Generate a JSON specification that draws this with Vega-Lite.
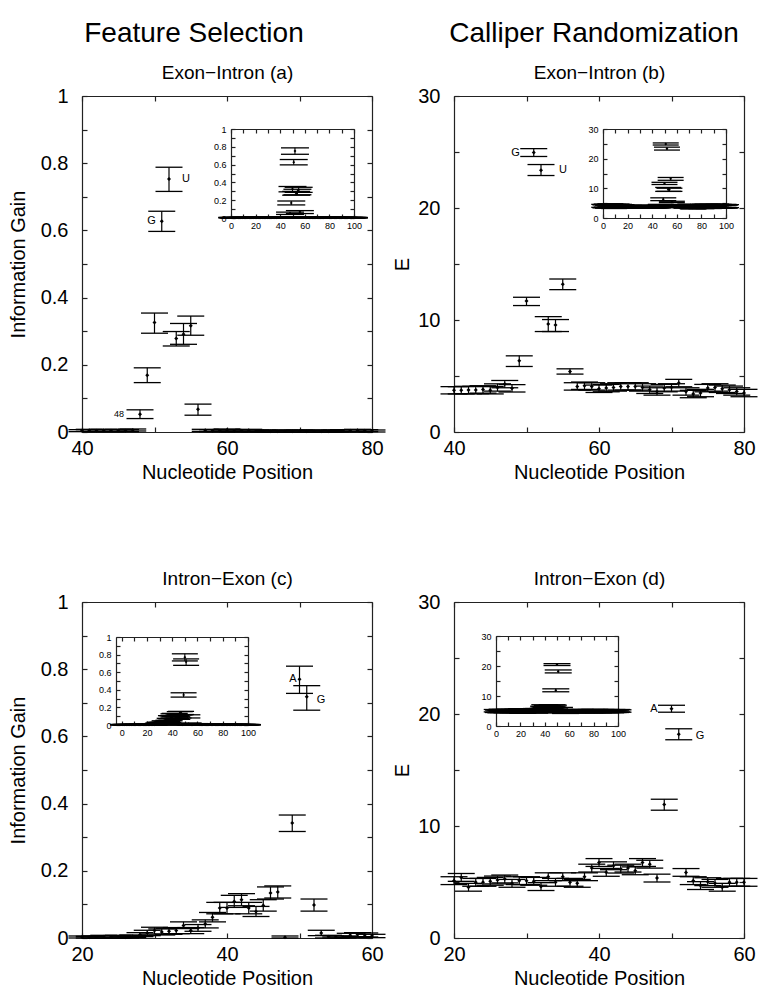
{
"$schema": "https://vega.github.io/schema/vega-lite/v6.json",
"padding": {"left": 8, "top": 20, "right": 0, "bottom": 0},
"datasets": {
"a": [
{"p":1,"v":0.004,"lo":0.001,"hi":0.007},{"p":2,"v":0.003,"lo":0,"hi":0.006},{"p":3,"v":0.002,"lo":0,"hi":0.005},{"p":4,"v":0.003,"lo":0,"hi":0.006},{"p":5,"v":0.004,"lo":0.001,"hi":0.007},
{"p":6,"v":0.002,"lo":0,"hi":0.005},{"p":7,"v":0.003,"lo":0,"hi":0.006},{"p":8,"v":0.003,"lo":0,"hi":0.006},{"p":9,"v":0.002,"lo":0,"hi":0.005},{"p":10,"v":0.004,"lo":0.001,"hi":0.007},
{"p":11,"v":0.003,"lo":0,"hi":0.006},{"p":12,"v":0.002,"lo":0,"hi":0.005},{"p":13,"v":0.003,"lo":0,"hi":0.006},{"p":14,"v":0.004,"lo":0.001,"hi":0.007},{"p":15,"v":0.003,"lo":0,"hi":0.006},
{"p":16,"v":0.002,"lo":0,"hi":0.005},{"p":17,"v":0.003,"lo":0,"hi":0.006},{"p":18,"v":0.002,"lo":0,"hi":0.005},{"p":19,"v":0.004,"lo":0.001,"hi":0.007},{"p":20,"v":0.003,"lo":0,"hi":0.006},
{"p":21,"v":0.002,"lo":0,"hi":0.005},{"p":22,"v":0.003,"lo":0,"hi":0.006},{"p":23,"v":0.003,"lo":0,"hi":0.006},{"p":24,"v":0.002,"lo":0,"hi":0.005},{"p":25,"v":0.004,"lo":0.001,"hi":0.007},
{"p":26,"v":0.003,"lo":0,"hi":0.006},{"p":27,"v":0.002,"lo":0,"hi":0.005},{"p":28,"v":0.003,"lo":0,"hi":0.006},{"p":29,"v":0.004,"lo":0.001,"hi":0.007},{"p":30,"v":0.003,"lo":0,"hi":0.006},
{"p":31,"v":0.002,"lo":0,"hi":0.005},{"p":32,"v":0.003,"lo":0,"hi":0.006},{"p":33,"v":0.003,"lo":0,"hi":0.006},{"p":34,"v":0.004,"lo":0.001,"hi":0.007},{"p":35,"v":0.003,"lo":0,"hi":0.006},
{"p":36,"v":0.004,"lo":0.001,"hi":0.007},{"p":37,"v":0.003,"lo":0,"hi":0.006},{"p":38,"v":0.005,"lo":0.002,"hi":0.008},{"p":39,"v":0.004,"lo":0.001,"hi":0.007},{"p":40,"v":0.004,"lo":0.001,"hi":0.007},
{"p":41,"v":0.005,"lo":0.002,"hi":0.008},{"p":42,"v":0.004,"lo":0.001,"hi":0.007},{"p":43,"v":0.005,"lo":0.002,"hi":0.008},{"p":44,"v":0.004,"lo":0.001,"hi":0.007},{"p":45,"v":0.005,"lo":0.002,"hi":0.008},
{"p":46,"v":0.004,"lo":0.001,"hi":0.007},{"p":47,"v":0.006,"lo":0.003,"hi":0.009},{"p":48,"v":0.053,"lo":0.040,"hi":0.066,"label":"48"},{"p":49,"v":0.169,"lo":0.147,"hi":0.191},{"p":50,"v":0.326,"lo":0.294,"hi":0.354},
{"p":51,"v":0.627,"lo":0.597,"hi":0.657,"label":"G"},{"p":52,"v":0.753,"lo":0.716,"hi":0.788,"label":"U"},{"p":53,"v":0.278,"lo":0.256,"hi":0.299},{"p":54,"v":0.291,"lo":0.261,"hi":0.323},{"p":55,"v":0.316,"lo":0.288,"hi":0.345},
{"p":56,"v":0.068,"lo":0.050,"hi":0.083},{"p":57,"v":0.005,"lo":0.002,"hi":0.008},{"p":58,"v":0.004,"lo":0.001,"hi":0.007},{"p":59,"v":0.004,"lo":0.001,"hi":0.007},{"p":60,"v":0.006,"lo":0.003,"hi":0.009},
{"p":61,"v":0.003,"lo":0,"hi":0.006},{"p":62,"v":0.004,"lo":0.001,"hi":0.007},{"p":63,"v":0.005,"lo":0.002,"hi":0.008},{"p":64,"v":0.003,"lo":0,"hi":0.006},{"p":65,"v":0.003,"lo":0,"hi":0.006},
{"p":66,"v":0.002,"lo":0,"hi":0.005},{"p":67,"v":0.002,"lo":0,"hi":0.005},{"p":68,"v":0.003,"lo":0,"hi":0.006},{"p":69,"v":0.002,"lo":0,"hi":0.005},{"p":70,"v":0.003,"lo":0,"hi":0.006},
{"p":71,"v":0.002,"lo":0,"hi":0.005},{"p":72,"v":0.003,"lo":0,"hi":0.006},{"p":73,"v":0.002,"lo":0,"hi":0.005},{"p":74,"v":0.002,"lo":0,"hi":0.005},{"p":75,"v":0.003,"lo":0,"hi":0.006},
{"p":76,"v":0.004,"lo":0.001,"hi":0.007},{"p":77,"v":0.004,"lo":0.001,"hi":0.007},{"p":78,"v":0.005,"lo":0.002,"hi":0.008},{"p":79,"v":0.004,"lo":0.001,"hi":0.007},{"p":80,"v":0.003,"lo":0,"hi":0.006},
{"p":81,"v":0.003,"lo":0,"hi":0.006},{"p":82,"v":0.002,"lo":0,"hi":0.005},{"p":83,"v":0.004,"lo":0.001,"hi":0.007},{"p":84,"v":0.003,"lo":0,"hi":0.006},{"p":85,"v":0.002,"lo":0,"hi":0.005},
{"p":86,"v":0.003,"lo":0,"hi":0.006},{"p":87,"v":0.004,"lo":0.001,"hi":0.007},{"p":88,"v":0.003,"lo":0,"hi":0.006},{"p":89,"v":0.002,"lo":0,"hi":0.005},{"p":90,"v":0.003,"lo":0,"hi":0.006},
{"p":91,"v":0.004,"lo":0.001,"hi":0.007},{"p":92,"v":0.003,"lo":0,"hi":0.006},{"p":93,"v":0.002,"lo":0,"hi":0.005},{"p":94,"v":0.003,"lo":0,"hi":0.006},{"p":95,"v":0.003,"lo":0,"hi":0.006},
{"p":96,"v":0.004,"lo":0.001,"hi":0.007},{"p":97,"v":0.002,"lo":0,"hi":0.005},{"p":98,"v":0.003,"lo":0,"hi":0.006},{"p":99,"v":0.004,"lo":0.001,"hi":0.007},{"p":100,"v":0.003,"lo":0,"hi":0.006}
],
"b": [
{"p":1,"v":4.1,"lo":3.6,"hi":4.6},{"p":2,"v":3.9,"lo":3.4,"hi":4.4},{"p":3,"v":4.2,"lo":3.7,"hi":4.7},{"p":4,"v":3.8,"lo":3.3,"hi":4.3},{"p":5,"v":4.0,"lo":3.5,"hi":4.5},
{"p":6,"v":4.3,"lo":3.8,"hi":4.8},{"p":7,"v":3.9,"lo":3.4,"hi":4.4},{"p":8,"v":4.1,"lo":3.6,"hi":4.6},{"p":9,"v":3.7,"lo":3.2,"hi":4.2},{"p":10,"v":4.0,"lo":3.5,"hi":4.5},
{"p":11,"v":4.2,"lo":3.7,"hi":4.7},{"p":12,"v":3.8,"lo":3.3,"hi":4.3},{"p":13,"v":4.1,"lo":3.6,"hi":4.6},{"p":14,"v":3.9,"lo":3.4,"hi":4.4},{"p":15,"v":4.0,"lo":3.5,"hi":4.5},
{"p":16,"v":3.8,"lo":3.45,"hi":4.15},{"p":17,"v":3.7,"lo":3.35,"hi":4.05},{"p":18,"v":3.9,"lo":3.55,"hi":4.25},{"p":19,"v":3.8,"lo":3.45,"hi":4.15},{"p":20,"v":3.7,"lo":3.35,"hi":4.05},
{"p":21,"v":3.9,"lo":3.55,"hi":4.25},{"p":22,"v":3.8,"lo":3.45,"hi":4.15},{"p":23,"v":3.7,"lo":3.35,"hi":4.05},{"p":24,"v":3.8,"lo":3.45,"hi":4.15},{"p":25,"v":3.9,"lo":3.55,"hi":4.25},
{"p":26,"v":3.7,"lo":3.35,"hi":4.05},{"p":27,"v":3.8,"lo":3.45,"hi":4.15},{"p":28,"v":3.9,"lo":3.55,"hi":4.25},{"p":29,"v":3.8,"lo":3.45,"hi":4.15},{"p":30,"v":3.7,"lo":3.35,"hi":4.05},
{"p":31,"v":3.8,"lo":3.45,"hi":4.15},{"p":32,"v":3.9,"lo":3.55,"hi":4.25},{"p":33,"v":3.7,"lo":3.35,"hi":4.05},{"p":34,"v":3.8,"lo":3.45,"hi":4.15},{"p":35,"v":3.9,"lo":3.55,"hi":4.25},
{"p":36,"v":3.8,"lo":3.45,"hi":4.15},{"p":37,"v":3.7,"lo":3.35,"hi":4.05},{"p":38,"v":3.8,"lo":3.45,"hi":4.15},{"p":39,"v":3.9,"lo":3.55,"hi":4.25},{"p":40,"v":3.72,"lo":3.40,"hi":4.05},
{"p":41,"v":3.72,"lo":3.40,"hi":4.05},{"p":42,"v":3.75,"lo":3.42,"hi":4.08},{"p":43,"v":3.75,"lo":3.42,"hi":4.08},{"p":44,"v":3.80,"lo":3.47,"hi":4.13},{"p":45,"v":3.72,"lo":3.40,"hi":4.05},
{"p":46,"v":3.98,"lo":3.65,"hi":4.30},{"p":47,"v":4.28,"lo":3.95,"hi":4.60},{"p":48,"v":3.90,"lo":3.57,"hi":4.23},{"p":49,"v":6.36,"lo":5.85,"hi":6.80},{"p":50,"v":11.70,"lo":11.29,"hi":12.03},
{"p":51,"v":24.95,"lo":24.60,"hi":25.30,"label":"G"},{"p":52,"v":23.37,"lo":22.90,"hi":23.88,"label":"U"},{"p":53,"v":9.65,"lo":8.97,"hi":10.30},{"p":54,"v":9.56,"lo":8.97,"hi":10.04},{"p":55,"v":13.19,"lo":12.71,"hi":13.66},
{"p":56,"v":5.40,"lo":5.17,"hi":5.64},{"p":57,"v":4.07,"lo":3.74,"hi":4.40},{"p":58,"v":4.13,"lo":3.80,"hi":4.46},{"p":59,"v":4.07,"lo":3.74,"hi":4.40},{"p":60,"v":3.86,"lo":3.53,"hi":4.19},
{"p":61,"v":3.92,"lo":3.59,"hi":4.25},{"p":62,"v":3.98,"lo":3.65,"hi":4.31},{"p":63,"v":4.07,"lo":3.74,"hi":4.40},{"p":64,"v":4.07,"lo":3.74,"hi":4.40},{"p":65,"v":4.07,"lo":3.74,"hi":4.40},
{"p":66,"v":3.98,"lo":3.65,"hi":4.31},{"p":67,"v":3.77,"lo":3.44,"hi":4.10},{"p":68,"v":3.62,"lo":3.29,"hi":3.95},{"p":69,"v":3.92,"lo":3.59,"hi":4.25},{"p":70,"v":3.98,"lo":3.65,"hi":4.31},
{"p":71,"v":4.37,"lo":4.04,"hi":4.70},{"p":72,"v":3.62,"lo":3.29,"hi":3.95},{"p":73,"v":3.39,"lo":3.06,"hi":3.72},{"p":74,"v":3.48,"lo":3.15,"hi":3.81},{"p":75,"v":3.92,"lo":3.59,"hi":4.25},
{"p":76,"v":3.98,"lo":3.65,"hi":4.31},{"p":77,"v":3.86,"lo":3.53,"hi":4.19},{"p":78,"v":3.77,"lo":3.44,"hi":4.10},{"p":79,"v":3.62,"lo":3.29,"hi":3.95},{"p":80,"v":3.48,"lo":3.15,"hi":3.81},
{"p":81,"v":4.0,"lo":3.5,"hi":4.5},{"p":82,"v":3.8,"lo":3.3,"hi":4.3},{"p":83,"v":4.1,"lo":3.6,"hi":4.6},{"p":84,"v":3.9,"lo":3.4,"hi":4.4},{"p":85,"v":4.2,"lo":3.7,"hi":4.7},
{"p":86,"v":3.7,"lo":3.2,"hi":4.2},{"p":87,"v":4.0,"lo":3.5,"hi":4.5},{"p":88,"v":3.9,"lo":3.4,"hi":4.4},{"p":89,"v":4.1,"lo":3.6,"hi":4.6},{"p":90,"v":3.8,"lo":3.3,"hi":4.3},
{"p":91,"v":4.0,"lo":3.5,"hi":4.5},{"p":92,"v":4.2,"lo":3.7,"hi":4.7},{"p":93,"v":3.9,"lo":3.4,"hi":4.4},{"p":94,"v":4.1,"lo":3.6,"hi":4.6},{"p":95,"v":3.8,"lo":3.3,"hi":4.3},
{"p":96,"v":4.0,"lo":3.5,"hi":4.5},{"p":97,"v":3.9,"lo":3.4,"hi":4.4},{"p":98,"v":4.1,"lo":3.6,"hi":4.6},{"p":99,"v":3.8,"lo":3.3,"hi":4.3},{"p":100,"v":4.0,"lo":3.5,"hi":4.5}
],
"c": [
{"p":1,"v":0.003,"lo":0,"hi":0.006},{"p":2,"v":0.002,"lo":0,"hi":0.005},{"p":3,"v":0.004,"lo":0.001,"hi":0.007},{"p":4,"v":0.003,"lo":0,"hi":0.006},{"p":5,"v":0.002,"lo":0,"hi":0.005},
{"p":6,"v":0.003,"lo":0,"hi":0.006},{"p":7,"v":0.004,"lo":0.001,"hi":0.007},{"p":8,"v":0.002,"lo":0,"hi":0.005},{"p":9,"v":0.003,"lo":0,"hi":0.006},{"p":10,"v":0.003,"lo":0,"hi":0.006},
{"p":11,"v":0.002,"lo":0,"hi":0.005},{"p":12,"v":0.004,"lo":0.001,"hi":0.007},{"p":13,"v":0.003,"lo":0,"hi":0.006},{"p":14,"v":0.002,"lo":0,"hi":0.005},{"p":15,"v":0.003,"lo":0,"hi":0.006},
{"p":16,"v":0.004,"lo":0.001,"hi":0.007},{"p":17,"v":0.003,"lo":0,"hi":0.006},{"p":18,"v":0.002,"lo":0,"hi":0.005},{"p":19,"v":0.003,"lo":0,"hi":0.006},{"p":20,"v":0.003,"lo":0,"hi":0.006},
{"p":21,"v":0.002,"lo":0,"hi":0.005},{"p":22,"v":0.003,"lo":0,"hi":0.006},{"p":23,"v":0.004,"lo":0,"hi":0.008},{"p":24,"v":0.003,"lo":0,"hi":0.006},{"p":25,"v":0.004,"lo":0,"hi":0.008},
{"p":26,"v":0.002,"lo":0,"hi":0.005},{"p":27,"v":0.005,"lo":0.001,"hi":0.009},{"p":28,"v":0.010,"lo":0.004,"hi":0.016},{"p":29,"v":0.015,"lo":0.007,"hi":0.023},{"p":30,"v":0.022,"lo":0.012,"hi":0.032},
{"p":31,"v":0.018,"lo":0.009,"hi":0.027},{"p":32,"v":0.020,"lo":0.011,"hi":0.029},{"p":33,"v":0.022,"lo":0.013,"hi":0.031},{"p":34,"v":0.0375,"lo":0.028,"hi":0.048},{"p":35,"v":0.022,"lo":0.013,"hi":0.031},
{"p":36,"v":0.030,"lo":0.020,"hi":0.040},{"p":37,"v":0.042,"lo":0.030,"hi":0.054},{"p":38,"v":0.062,"lo":0.048,"hi":0.076},{"p":39,"v":0.089,"lo":0.072,"hi":0.106},{"p":40,"v":0.089,"lo":0.072,"hi":0.106},
{"p":41,"v":0.109,"lo":0.091,"hi":0.127},{"p":42,"v":0.114,"lo":0.096,"hi":0.132},{"p":43,"v":0.089,"lo":0.072,"hi":0.106},{"p":44,"v":0.079,"lo":0.064,"hi":0.094},{"p":45,"v":0.097,"lo":0.080,"hi":0.114},
{"p":46,"v":0.134,"lo":0.116,"hi":0.152},{"p":47,"v":0.137,"lo":0.119,"hi":0.155},{"p":48,"v":0.002,"lo":0,"hi":0.006},{"p":49,"v":0.342,"lo":0.317,"hi":0.366},{"p":50,"v":0.770,"lo":0.728,"hi":0.809,"label":"A"},
{"p":51,"v":0.718,"lo":0.678,"hi":0.751,"label":"G"},{"p":52,"v":0.098,"lo":0.080,"hi":0.116},{"p":53,"v":0.015,"lo":0.007,"hi":0.023},{"p":54,"v":0.004,"lo":0,"hi":0.008},{"p":55,"v":0.003,"lo":0,"hi":0.006},
{"p":56,"v":0.003,"lo":0,"hi":0.006},{"p":57,"v":0.008,"lo":0.002,"hi":0.014},{"p":58,"v":0.010,"lo":0.004,"hi":0.016},{"p":59,"v":0.009,"lo":0.003,"hi":0.015},{"p":60,"v":0.006,"lo":0.001,"hi":0.011},
{"p":61,"v":0.004,"lo":0.001,"hi":0.007},{"p":62,"v":0.003,"lo":0,"hi":0.006},{"p":63,"v":0.002,"lo":0,"hi":0.005},{"p":64,"v":0.003,"lo":0,"hi":0.006},{"p":65,"v":0.004,"lo":0.001,"hi":0.007},
{"p":66,"v":0.003,"lo":0,"hi":0.006},{"p":67,"v":0.002,"lo":0,"hi":0.005},{"p":68,"v":0.003,"lo":0,"hi":0.006},{"p":69,"v":0.003,"lo":0,"hi":0.006},{"p":70,"v":0.004,"lo":0.001,"hi":0.007},
{"p":71,"v":0.002,"lo":0,"hi":0.005},{"p":72,"v":0.003,"lo":0,"hi":0.006},{"p":73,"v":0.004,"lo":0.001,"hi":0.007},{"p":74,"v":0.003,"lo":0,"hi":0.006},{"p":75,"v":0.002,"lo":0,"hi":0.005},
{"p":76,"v":0.003,"lo":0,"hi":0.006},{"p":77,"v":0.003,"lo":0,"hi":0.006},{"p":78,"v":0.004,"lo":0.001,"hi":0.007},{"p":79,"v":0.002,"lo":0,"hi":0.005},{"p":80,"v":0.003,"lo":0,"hi":0.006},
{"p":81,"v":0.003,"lo":0,"hi":0.006},{"p":82,"v":0.004,"lo":0.001,"hi":0.007},{"p":83,"v":0.002,"lo":0,"hi":0.005},{"p":84,"v":0.003,"lo":0,"hi":0.006},{"p":85,"v":0.003,"lo":0,"hi":0.006},
{"p":86,"v":0.002,"lo":0,"hi":0.005},{"p":87,"v":0.004,"lo":0.001,"hi":0.007},{"p":88,"v":0.003,"lo":0,"hi":0.006},{"p":89,"v":0.002,"lo":0,"hi":0.005},{"p":90,"v":0.003,"lo":0,"hi":0.006},
{"p":91,"v":0.004,"lo":0.001,"hi":0.007},{"p":92,"v":0.003,"lo":0,"hi":0.006},{"p":93,"v":0.002,"lo":0,"hi":0.005},{"p":94,"v":0.003,"lo":0,"hi":0.006},{"p":95,"v":0.003,"lo":0,"hi":0.006},
{"p":96,"v":0.004,"lo":0.001,"hi":0.007},{"p":97,"v":0.002,"lo":0,"hi":0.005},{"p":98,"v":0.003,"lo":0,"hi":0.006},{"p":99,"v":0.003,"lo":0,"hi":0.006},{"p":100,"v":0.002,"lo":0,"hi":0.005}
],
"d": [
{"p":1,"v":5.1,"lo":4.7,"hi":5.5},{"p":2,"v":4.9,"lo":4.5,"hi":5.3},{"p":3,"v":5.0,"lo":4.6,"hi":5.4},{"p":4,"v":4.8,"lo":4.4,"hi":5.2},{"p":5,"v":5.2,"lo":4.8,"hi":5.6},
{"p":6,"v":4.9,"lo":4.5,"hi":5.3},{"p":7,"v":5.0,"lo":4.6,"hi":5.4},{"p":8,"v":5.1,"lo":4.7,"hi":5.5},{"p":9,"v":4.8,"lo":4.4,"hi":5.2},{"p":10,"v":5.0,"lo":4.6,"hi":5.4},
{"p":11,"v":5.2,"lo":4.8,"hi":5.6},{"p":12,"v":4.9,"lo":4.5,"hi":5.3},{"p":13,"v":5.0,"lo":4.6,"hi":5.4},{"p":14,"v":4.8,"lo":4.4,"hi":5.2},{"p":15,"v":5.1,"lo":4.7,"hi":5.5},
{"p":16,"v":4.9,"lo":4.5,"hi":5.3},{"p":17,"v":5.0,"lo":4.6,"hi":5.4},{"p":18,"v":5.2,"lo":4.8,"hi":5.6},{"p":19,"v":4.9,"lo":4.5,"hi":5.3},{"p":20,"v":5.12,"lo":4.77,"hi":5.47},
{"p":21,"v":5.41,"lo":5.06,"hi":5.76},{"p":22,"v":4.53,"lo":4.18,"hi":4.88},{"p":23,"v":4.97,"lo":4.62,"hi":5.32},{"p":24,"v":4.97,"lo":4.62,"hi":5.32},{"p":25,"v":5.06,"lo":4.71,"hi":5.41},
{"p":26,"v":5.18,"lo":4.83,"hi":5.53},{"p":27,"v":5.27,"lo":4.92,"hi":5.62},{"p":28,"v":4.88,"lo":4.53,"hi":5.23},{"p":29,"v":5.12,"lo":4.77,"hi":5.47},{"p":30,"v":5.12,"lo":4.77,"hi":5.47},
{"p":31,"v":5.06,"lo":4.71,"hi":5.41},{"p":32,"v":4.59,"lo":4.24,"hi":4.94},{"p":33,"v":5.47,"lo":5.12,"hi":5.82},{"p":34,"v":4.97,"lo":4.62,"hi":5.32},{"p":35,"v":5.47,"lo":5.12,"hi":5.82},
{"p":36,"v":4.97,"lo":4.62,"hi":5.32},{"p":37,"v":4.88,"lo":4.53,"hi":5.23},{"p":38,"v":5.47,"lo":5.12,"hi":5.82},{"p":39,"v":6.24,"lo":5.89,"hi":6.59},{"p":40,"v":6.74,"lo":6.39,"hi":7.09},
{"p":41,"v":5.86,"lo":5.51,"hi":6.21},{"p":42,"v":6.45,"lo":6.10,"hi":6.80},{"p":43,"v":6.15,"lo":5.80,"hi":6.50},{"p":44,"v":6.24,"lo":5.89,"hi":6.59},{"p":45,"v":6.00,"lo":5.65,"hi":6.35},
{"p":46,"v":6.74,"lo":6.39,"hi":7.09},{"p":47,"v":6.59,"lo":6.24,"hi":6.94},{"p":48,"v":5.35,"lo":5.00,"hi":5.70},{"p":49,"v":11.92,"lo":11.41,"hi":12.39},{"p":50,"v":20.46,"lo":20.16,"hi":20.78,"label":"A"},
{"p":51,"v":18.20,"lo":17.70,"hi":18.68,"label":"G"},{"p":52,"v":5.84,"lo":5.51,"hi":6.20},{"p":53,"v":5.12,"lo":4.77,"hi":5.47},{"p":54,"v":4.68,"lo":4.33,"hi":5.03},{"p":55,"v":5.03,"lo":4.68,"hi":5.38},
{"p":56,"v":4.88,"lo":4.53,"hi":5.23},{"p":57,"v":4.53,"lo":4.18,"hi":4.88},{"p":58,"v":4.97,"lo":4.62,"hi":5.32},{"p":59,"v":4.97,"lo":4.62,"hi":5.32},{"p":60,"v":4.97,"lo":4.62,"hi":5.32},
{"p":61,"v":4.9,"lo":4.5,"hi":5.3},{"p":62,"v":5.0,"lo":4.6,"hi":5.4},{"p":63,"v":4.8,"lo":4.4,"hi":5.2},{"p":64,"v":5.1,"lo":4.7,"hi":5.5},{"p":65,"v":4.9,"lo":4.5,"hi":5.3},
{"p":66,"v":5.0,"lo":4.6,"hi":5.4},{"p":67,"v":4.8,"lo":4.4,"hi":5.2},{"p":68,"v":5.0,"lo":4.6,"hi":5.4},{"p":69,"v":5.1,"lo":4.7,"hi":5.5},{"p":70,"v":4.9,"lo":4.5,"hi":5.3},
{"p":71,"v":5.0,"lo":4.6,"hi":5.4},{"p":72,"v":4.8,"lo":4.4,"hi":5.2},{"p":73,"v":5.1,"lo":4.7,"hi":5.5},{"p":74,"v":4.9,"lo":4.5,"hi":5.3},{"p":75,"v":5.0,"lo":4.6,"hi":5.4},
{"p":76,"v":5.0,"lo":4.6,"hi":5.4},{"p":77,"v":4.8,"lo":4.4,"hi":5.2},{"p":78,"v":5.1,"lo":4.7,"hi":5.5},{"p":79,"v":4.9,"lo":4.5,"hi":5.3},{"p":80,"v":5.0,"lo":4.6,"hi":5.4},
{"p":81,"v":5.1,"lo":4.7,"hi":5.5},{"p":82,"v":4.9,"lo":4.5,"hi":5.3},{"p":83,"v":5.0,"lo":4.6,"hi":5.4},{"p":84,"v":4.8,"lo":4.4,"hi":5.2},{"p":85,"v":5.0,"lo":4.6,"hi":5.4},
{"p":86,"v":5.1,"lo":4.7,"hi":5.5},{"p":87,"v":4.9,"lo":4.5,"hi":5.3},{"p":88,"v":5.0,"lo":4.6,"hi":5.4},{"p":89,"v":4.8,"lo":4.4,"hi":5.2},{"p":90,"v":5.1,"lo":4.7,"hi":5.5},
{"p":91,"v":4.9,"lo":4.5,"hi":5.3},{"p":92,"v":5.0,"lo":4.6,"hi":5.4},{"p":93,"v":5.0,"lo":4.6,"hi":5.4},{"p":94,"v":4.8,"lo":4.4,"hi":5.2},{"p":95,"v":5.1,"lo":4.7,"hi":5.5},
{"p":96,"v":4.9,"lo":4.5,"hi":5.3},{"p":97,"v":5.0,"lo":4.6,"hi":5.4},{"p":98,"v":4.9,"lo":4.5,"hi":5.3},{"p":99,"v":5.1,"lo":4.7,"hi":5.5},{"p":100,"v":5.0,"lo":4.6,"hi":5.4}
]
},
"columns": 2,
"spacing": {"row": 170, "column": 82},
"bounds": "flush",
"concat": [
{
 "width": 290, "height": 336,
 "data": {"name": "a"},
 "title": {"text": "Feature Selection", "fontSize": 28, "anchor": "middle", "frame": "group", "dx": -33, "offset": -7, "baseline": "alphabetic"},
 "layer": [
  {"transform": [{"filter": "datum.p >= 40 && datum.p <= 80"}],
   "layer": [
    {"mark": {"type": "rule", "color": "#000", "strokeWidth": 1.2},
     "encoding": {"x": {"field": "p", "type": "quantitative", "scale": {"domain": [40, 80], "nice": false, "zero": false}, "axis": null},
                  "y": {"field": "lo", "type": "quantitative", "scale": {"domain": [0, 1], "nice": false, "zero": false}, "axis": null}, "y2": {"field": "hi"}}},
    {"mark": {"type": "tick", "orient": "horizontal", "size": 27, "thickness": 1.3, "color": "#000", "opacity": 1},
     "encoding": {"x": {"field": "p", "type": "quantitative", "axis": null}, "y": {"field": "lo", "type": "quantitative", "axis": null}}},
    {"mark": {"type": "tick", "orient": "horizontal", "size": 27, "thickness": 1.3, "color": "#000", "opacity": 1},
     "encoding": {"x": {"field": "p", "type": "quantitative", "axis": null}, "y": {"field": "hi", "type": "quantitative", "axis": null}}},
    {"mark": {"type": "point", "filled": true, "shape": "diamond", "size": 16, "color": "#000", "opacity": 1},
     "encoding": {"x": {"field": "p", "type": "quantitative", "axis": null}, "y": {"field": "v", "type": "quantitative", "axis": null}}},
    {"transform": [{"filter": "datum.label === 'U'"}],
     "mark": {"type": "text", "align": "left", "baseline": "middle", "dx": 13, "fontSize": 11, "color": "#000"},
     "encoding": {"x": {"field": "p", "type": "quantitative", "axis": null}, "y": {"field": "v", "type": "quantitative", "axis": null}, "text": {"field": "label"}}},
    {"transform": [{"filter": "datum.label === 'G'"}],
     "mark": {"type": "text", "align": "right", "baseline": "middle", "dx": -6, "fontSize": 11, "color": "#000"},
     "encoding": {"x": {"field": "p", "type": "quantitative", "axis": null}, "y": {"field": "v", "type": "quantitative", "axis": null}, "text": {"field": "label"}}},
    {"transform": [{"filter": "datum.label === '48'"}],
     "mark": {"type": "text", "align": "right", "baseline": "middle", "dx": -16, "fontSize": 9, "color": "#000"},
     "encoding": {"x": {"field": "p", "type": "quantitative", "axis": null}, "y": {"field": "v", "type": "quantitative", "axis": null}, "text": {"field": "label"}}}
   ]},
  {"transform": [{"filter": "datum.p >= 40 && datum.p <= 80"}],
   "mark": {"type": "point", "opacity": 0},
   "encoding": {
    "x": {"field": "p", "type": "quantitative", "scale": {"domain": [40, 80], "nice": false, "zero": false},
          "axis": {"orient": "bottom", "values": [40, 50, 60, 70, 80], "labelExpr": "datum.value % 20 === 0 ? datum.label : ''", "title": "Nucleotide Position", "labelPadding": 11, "titlePadding": 4}},
    "y": {"field": "v", "type": "quantitative", "scale": {"domain": [0, 1], "nice": false, "zero": false},
          "axis": {"orient": "left", "values": [0, 0.1, 0.2, 0.3, 0.4, 0.5, 0.6, 0.7, 0.8, 0.9, 1], "labelExpr": "round(datum.value * 10) % 2 === 0 ? format(datum.value, '~g') : ''", "title": "Information Gain", "labelPadding": 19, "titlePadding": 12}}}},
  {"transform": [{"filter": "datum.p >= 40 && datum.p <= 80"}],
   "mark": {"type": "point", "opacity": 0},
   "encoding": {
    "x": {"field": "p", "type": "quantitative", "scale": {"domain": [40, 80], "nice": false, "zero": false},
          "axis": {"orient": "top", "values": [40, 50, 60, 70, 80], "labels": false, "title": "Exon−Intron (a)", "titleX": 145, "titleY": -18, "titleAlign": "center", "titleBaseline": "alphabetic", "titleAngle": 0, "titleFontSize": 19}},
    "y": {"field": "v", "type": "quantitative", "scale": {"domain": [0, 1], "nice": false, "zero": false},
          "axis": {"orient": "right", "values": [0, 0.1, 0.2, 0.3, 0.4, 0.5, 0.6, 0.7, 0.8, 0.9, 1], "labels": false, "title": null}}}},
  {"layer": [
    {"mark": {"type": "rule", "color": "#000", "strokeWidth": 1.1},
     "encoding": {"x": {"field": "p", "type": "quantitative", "scale": {"domain": [0, 100], "range": [149, 272], "nice": false, "zero": false}, "axis": null},
                  "y": {"field": "lo", "type": "quantitative", "scale": {"domain": [0, 1], "range": [122, 33], "nice": false, "zero": false}, "axis": null}, "y2": {"field": "hi"}}},
    {"mark": {"type": "tick", "orient": "horizontal", "size": 28, "thickness": 1.3, "color": "#000", "opacity": 1},
     "encoding": {"x": {"field": "p", "type": "quantitative", "axis": null}, "y": {"field": "lo", "type": "quantitative", "axis": null}}},
    {"mark": {"type": "tick", "orient": "horizontal", "size": 28, "thickness": 1.3, "color": "#000", "opacity": 1},
     "encoding": {"x": {"field": "p", "type": "quantitative", "axis": null}, "y": {"field": "hi", "type": "quantitative", "axis": null}}},
    {"mark": {"type": "point", "filled": true, "shape": "diamond", "size": 8, "color": "#000", "opacity": 1},
     "encoding": {"x": {"field": "p", "type": "quantitative", "axis": null}, "y": {"field": "v", "type": "quantitative", "axis": null}}}
  ]},
  {"mark": {"type": "point", "opacity": 0},
   "encoding": {
    "x": {"field": "p", "type": "quantitative", "scale": {"domain": [0, 100], "range": [149, 272], "nice": false, "zero": false},
          "axis": {"orient": "bottom", "offset": -214, "values": [0, 10, 20, 30, 40, 50, 60, 70, 80, 90, 100], "labelExpr": "datum.value % 20 === 0 ? datum.label : ''", "title": null, "labelFontSize": 9, "tickSize": -4, "labelPadding": 7}},
    "y": {"field": "v", "type": "quantitative", "scale": {"domain": [0, 1], "range": [122, 33], "nice": false, "zero": false},
          "axis": {"orient": "left", "offset": -149, "values": [0, 0.1, 0.2, 0.3, 0.4, 0.5, 0.6, 0.7, 0.8, 0.9, 1], "labelExpr": "round(datum.value * 10) % 2 === 0 ? format(datum.value, '~g') : ''", "title": null, "labelFontSize": 9, "tickSize": -4, "labelPadding": 9}}}},
  {"mark": {"type": "point", "opacity": 0},
   "encoding": {
    "x": {"field": "p", "type": "quantitative", "scale": {"domain": [0, 100], "range": [149, 272], "nice": false, "zero": false},
          "axis": {"orient": "top", "offset": -33, "values": [0, 10, 20, 30, 40, 50, 60, 70, 80, 90, 100], "labels": false, "title": null, "tickSize": -4}},
    "y": {"field": "v", "type": "quantitative", "scale": {"domain": [0, 1], "range": [122, 33], "nice": false, "zero": false},
          "axis": {"orient": "right", "offset": -18, "values": [0, 0.1, 0.2, 0.3, 0.4, 0.5, 0.6, 0.7, 0.8, 0.9, 1], "labels": false, "title": null, "tickSize": -4}}}}
 ],
 "resolve": {"scale": {"x": "independent", "y": "independent"}}
},
{
 "width": 290, "height": 336,
 "data": {"name": "b"},
 "title": {"text": "Calliper Randomization", "fontSize": 28, "anchor": "middle", "frame": "group", "dx": -5, "offset": -7, "baseline": "alphabetic"},
 "layer": [
  {"transform": [{"filter": "datum.p >= 40 && datum.p <= 80"}],
   "layer": [
    {"mark": {"type": "rule", "color": "#000", "strokeWidth": 1.2},
     "encoding": {"x": {"field": "p", "type": "quantitative", "scale": {"domain": [40, 80], "nice": false, "zero": false}, "axis": null},
                  "y": {"field": "lo", "type": "quantitative", "scale": {"domain": [0, 30], "nice": false, "zero": false}, "axis": null}, "y2": {"field": "hi"}}},
    {"mark": {"type": "tick", "orient": "horizontal", "size": 27, "thickness": 1.3, "color": "#000", "opacity": 1},
     "encoding": {"x": {"field": "p", "type": "quantitative", "axis": null}, "y": {"field": "lo", "type": "quantitative", "axis": null}}},
    {"mark": {"type": "tick", "orient": "horizontal", "size": 27, "thickness": 1.3, "color": "#000", "opacity": 1},
     "encoding": {"x": {"field": "p", "type": "quantitative", "axis": null}, "y": {"field": "hi", "type": "quantitative", "axis": null}}},
    {"mark": {"type": "point", "filled": true, "shape": "diamond", "size": 16, "color": "#000", "opacity": 1},
     "encoding": {"x": {"field": "p", "type": "quantitative", "axis": null}, "y": {"field": "v", "type": "quantitative", "axis": null}}},
    {"transform": [{"filter": "datum.label === 'U'"}],
     "mark": {"type": "text", "align": "left", "baseline": "middle", "dx": 18, "fontSize": 11, "color": "#000"},
     "encoding": {"x": {"field": "p", "type": "quantitative", "axis": null}, "y": {"field": "v", "type": "quantitative", "axis": null}, "text": {"field": "label"}}},
    {"transform": [{"filter": "datum.label === 'G'"}],
     "mark": {"type": "text", "align": "right", "baseline": "middle", "dx": -14, "fontSize": 11, "color": "#000"},
     "encoding": {"x": {"field": "p", "type": "quantitative", "axis": null}, "y": {"field": "v", "type": "quantitative", "axis": null}, "text": {"field": "label"}}}
   ]},
  {"transform": [{"filter": "datum.p >= 40 && datum.p <= 80"}],
   "mark": {"type": "point", "opacity": 0},
   "encoding": {
    "x": {"field": "p", "type": "quantitative", "scale": {"domain": [40, 80], "nice": false, "zero": false},
          "axis": {"orient": "bottom", "values": [40, 50, 60, 70, 80], "labelExpr": "datum.value % 20 === 0 ? datum.label : ''", "title": "Nucleotide Position", "labelPadding": 11, "titlePadding": 4}},
    "y": {"field": "v", "type": "quantitative", "scale": {"domain": [0, 30], "nice": false, "zero": false},
          "axis": {"orient": "left", "values": [0, 5, 10, 15, 20, 25, 30], "labelExpr": "datum.value % 10 === 0 ? datum.label : ''", "title": "E", "labelPadding": 19, "titlePadding": 5}}}},
  {"transform": [{"filter": "datum.p >= 40 && datum.p <= 80"}],
   "mark": {"type": "point", "opacity": 0},
   "encoding": {
    "x": {"field": "p", "type": "quantitative", "scale": {"domain": [40, 80], "nice": false, "zero": false},
          "axis": {"orient": "top", "values": [40, 50, 60, 70, 80], "labels": false, "title": "Exon−Intron (b)", "titleX": 145, "titleY": -18, "titleAlign": "center", "titleBaseline": "alphabetic", "titleAngle": 0, "titleFontSize": 19}},
    "y": {"field": "v", "type": "quantitative", "scale": {"domain": [0, 30], "nice": false, "zero": false},
          "axis": {"orient": "right", "values": [0, 5, 10, 15, 20, 25, 30], "labels": false, "title": null}}}},
  {"layer": [
    {"mark": {"type": "rule", "color": "#000", "strokeWidth": 1.1},
     "encoding": {"x": {"field": "p", "type": "quantitative", "scale": {"domain": [0, 100], "range": [149, 272], "nice": false, "zero": false}, "axis": null},
                  "y": {"field": "lo", "type": "quantitative", "scale": {"domain": [0, 30], "range": [122, 33], "nice": false, "zero": false}, "axis": null}, "y2": {"field": "hi"}}},
    {"mark": {"type": "tick", "orient": "horizontal", "size": 26, "thickness": 1.3, "color": "#000", "opacity": 1},
     "encoding": {"x": {"field": "p", "type": "quantitative", "axis": null}, "y": {"field": "lo", "type": "quantitative", "axis": null}}},
    {"mark": {"type": "tick", "orient": "horizontal", "size": 26, "thickness": 1.3, "color": "#000", "opacity": 1},
     "encoding": {"x": {"field": "p", "type": "quantitative", "axis": null}, "y": {"field": "hi", "type": "quantitative", "axis": null}}},
    {"mark": {"type": "point", "filled": true, "shape": "diamond", "size": 8, "color": "#000", "opacity": 1},
     "encoding": {"x": {"field": "p", "type": "quantitative", "axis": null}, "y": {"field": "v", "type": "quantitative", "axis": null}}}
  ]},
  {"mark": {"type": "point", "opacity": 0},
   "encoding": {
    "x": {"field": "p", "type": "quantitative", "scale": {"domain": [0, 100], "range": [149, 272], "nice": false, "zero": false},
          "axis": {"orient": "bottom", "offset": -214, "values": [0, 10, 20, 30, 40, 50, 60, 70, 80, 90, 100], "labelExpr": "datum.value % 20 === 0 ? datum.label : ''", "title": null, "labelFontSize": 9, "tickSize": -4, "labelPadding": 7}},
    "y": {"field": "v", "type": "quantitative", "scale": {"domain": [0, 30], "range": [122, 33], "nice": false, "zero": false},
          "axis": {"orient": "left", "offset": -149, "values": [0, 5, 10, 15, 20, 25, 30], "labelExpr": "datum.value % 10 === 0 ? datum.label : ''", "title": null, "labelFontSize": 9, "tickSize": -4, "labelPadding": 9}}}},
  {"mark": {"type": "point", "opacity": 0},
   "encoding": {
    "x": {"field": "p", "type": "quantitative", "scale": {"domain": [0, 100], "range": [149, 272], "nice": false, "zero": false},
          "axis": {"orient": "top", "offset": -33, "values": [0, 10, 20, 30, 40, 50, 60, 70, 80, 90, 100], "labels": false, "title": null, "tickSize": -4}},
    "y": {"field": "v", "type": "quantitative", "scale": {"domain": [0, 30], "range": [122, 33], "nice": false, "zero": false},
          "axis": {"orient": "right", "offset": -18, "values": [0, 5, 10, 15, 20, 25, 30], "labels": false, "title": null, "tickSize": -4}}}}
 ],
 "resolve": {"scale": {"x": "independent", "y": "independent"}}
},
{
 "width": 290, "height": 336,
 "data": {"name": "c"},
 "layer": [
  {"transform": [{"filter": "datum.p >= 20 && datum.p <= 60"}],
   "layer": [
    {"mark": {"type": "rule", "color": "#000", "strokeWidth": 1.2},
     "encoding": {"x": {"field": "p", "type": "quantitative", "scale": {"domain": [20, 60], "nice": false, "zero": false}, "axis": null},
                  "y": {"field": "lo", "type": "quantitative", "scale": {"domain": [0, 1], "nice": false, "zero": false}, "axis": null}, "y2": {"field": "hi"}}},
    {"mark": {"type": "tick", "orient": "horizontal", "size": 27, "thickness": 1.3, "color": "#000", "opacity": 1},
     "encoding": {"x": {"field": "p", "type": "quantitative", "axis": null}, "y": {"field": "lo", "type": "quantitative", "axis": null}}},
    {"mark": {"type": "tick", "orient": "horizontal", "size": 27, "thickness": 1.3, "color": "#000", "opacity": 1},
     "encoding": {"x": {"field": "p", "type": "quantitative", "axis": null}, "y": {"field": "hi", "type": "quantitative", "axis": null}}},
    {"mark": {"type": "point", "filled": true, "shape": "diamond", "size": 16, "color": "#000", "opacity": 1},
     "encoding": {"x": {"field": "p", "type": "quantitative", "axis": null}, "y": {"field": "v", "type": "quantitative", "axis": null}}},
    {"transform": [{"filter": "datum.label === 'A'"}],
     "mark": {"type": "text", "align": "right", "baseline": "middle", "dx": -3, "fontSize": 11, "color": "#000"},
     "encoding": {"x": {"field": "p", "type": "quantitative", "axis": null}, "y": {"field": "v", "type": "quantitative", "axis": null}, "text": {"field": "label"}}},
    {"transform": [{"filter": "datum.label === 'G'"}],
     "mark": {"type": "text", "align": "left", "baseline": "middle", "dx": 10, "dy": 3, "fontSize": 11, "color": "#000"},
     "encoding": {"x": {"field": "p", "type": "quantitative", "axis": null}, "y": {"field": "v", "type": "quantitative", "axis": null}, "text": {"field": "label"}}}
   ]},
  {"transform": [{"filter": "datum.p >= 20 && datum.p <= 60"}],
   "mark": {"type": "point", "opacity": 0},
   "encoding": {
    "x": {"field": "p", "type": "quantitative", "scale": {"domain": [20, 60], "nice": false, "zero": false},
          "axis": {"orient": "bottom", "values": [20, 30, 40, 50, 60], "labelExpr": "datum.value % 20 === 0 ? datum.label : ''", "title": "Nucleotide Position", "labelPadding": 11, "titlePadding": 4}},
    "y": {"field": "v", "type": "quantitative", "scale": {"domain": [0, 1], "nice": false, "zero": false},
          "axis": {"orient": "left", "values": [0, 0.1, 0.2, 0.3, 0.4, 0.5, 0.6, 0.7, 0.8, 0.9, 1], "labelExpr": "round(datum.value * 10) % 2 === 0 ? format(datum.value, '~g') : ''", "title": "Information Gain", "labelPadding": 19, "titlePadding": 12}}}},
  {"transform": [{"filter": "datum.p >= 20 && datum.p <= 60"}],
   "mark": {"type": "point", "opacity": 0},
   "encoding": {
    "x": {"field": "p", "type": "quantitative", "scale": {"domain": [20, 60], "nice": false, "zero": false},
          "axis": {"orient": "top", "values": [20, 30, 40, 50, 60], "labels": false, "title": "Intron−Exon (c)", "titleX": 145, "titleY": -18, "titleAlign": "center", "titleBaseline": "alphabetic", "titleAngle": 0, "titleFontSize": 19}},
    "y": {"field": "v", "type": "quantitative", "scale": {"domain": [0, 1], "nice": false, "zero": false},
          "axis": {"orient": "right", "values": [0, 0.1, 0.2, 0.3, 0.4, 0.5, 0.6, 0.7, 0.8, 0.9, 1], "labels": false, "title": null}}}},
  {"layer": [
    {"mark": {"type": "rule", "color": "#000", "strokeWidth": 1.1},
     "encoding": {"x": {"field": "p", "type": "quantitative", "scale": {"domain": [-4.5, 100], "range": [34, 166], "nice": false, "zero": false}, "axis": null},
                  "y": {"field": "lo", "type": "quantitative", "scale": {"domain": [0, 1], "range": [123, 35], "nice": false, "zero": false}, "axis": null}, "y2": {"field": "hi"}}},
    {"mark": {"type": "tick", "orient": "horizontal", "size": 26, "thickness": 1.3, "color": "#000", "opacity": 1},
     "encoding": {"x": {"field": "p", "type": "quantitative", "axis": null}, "y": {"field": "lo", "type": "quantitative", "axis": null}}},
    {"mark": {"type": "tick", "orient": "horizontal", "size": 26, "thickness": 1.3, "color": "#000", "opacity": 1},
     "encoding": {"x": {"field": "p", "type": "quantitative", "axis": null}, "y": {"field": "hi", "type": "quantitative", "axis": null}}},
    {"mark": {"type": "point", "filled": true, "shape": "diamond", "size": 8, "color": "#000", "opacity": 1},
     "encoding": {"x": {"field": "p", "type": "quantitative", "axis": null}, "y": {"field": "v", "type": "quantitative", "axis": null}}}
  ]},
  {"mark": {"type": "point", "opacity": 0},
   "encoding": {
    "x": {"field": "p", "type": "quantitative", "scale": {"domain": [-4.5, 100], "range": [34, 166], "nice": false, "zero": false},
          "axis": {"orient": "bottom", "offset": -213, "values": [0, 10, 20, 30, 40, 50, 60, 70, 80, 90, 100], "labelExpr": "datum.value % 20 === 0 ? datum.label : ''", "title": null, "labelFontSize": 9, "tickSize": -4, "labelPadding": 7}},
    "y": {"field": "v", "type": "quantitative", "scale": {"domain": [0, 1], "range": [123, 35], "nice": false, "zero": false},
          "axis": {"orient": "left", "offset": -34, "values": [0, 0.1, 0.2, 0.3, 0.4, 0.5, 0.6, 0.7, 0.8, 0.9, 1], "labelExpr": "round(datum.value * 10) % 2 === 0 ? format(datum.value, '~g') : ''", "title": null, "labelFontSize": 9, "tickSize": -4, "labelPadding": 9}}}},
  {"mark": {"type": "point", "opacity": 0},
   "encoding": {
    "x": {"field": "p", "type": "quantitative", "scale": {"domain": [-4.5, 100], "range": [34, 166], "nice": false, "zero": false},
          "axis": {"orient": "top", "offset": -35, "values": [0, 10, 20, 30, 40, 50, 60, 70, 80, 90, 100], "labels": false, "title": null, "tickSize": -4}},
    "y": {"field": "v", "type": "quantitative", "scale": {"domain": [0, 1], "range": [123, 35], "nice": false, "zero": false},
          "axis": {"orient": "right", "offset": -124, "values": [0, 0.1, 0.2, 0.3, 0.4, 0.5, 0.6, 0.7, 0.8, 0.9, 1], "labels": false, "title": null, "tickSize": -4}}}}
 ],
 "resolve": {"scale": {"x": "independent", "y": "independent"}}
},
{
 "width": 290, "height": 336,
 "data": {"name": "d"},
 "layer": [
  {"transform": [{"filter": "datum.p >= 20 && datum.p <= 60"}],
   "layer": [
    {"mark": {"type": "rule", "color": "#000", "strokeWidth": 1.2},
     "encoding": {"x": {"field": "p", "type": "quantitative", "scale": {"domain": [20, 60], "nice": false, "zero": false}, "axis": null},
                  "y": {"field": "lo", "type": "quantitative", "scale": {"domain": [0, 30], "nice": false, "zero": false}, "axis": null}, "y2": {"field": "hi"}}},
    {"mark": {"type": "tick", "orient": "horizontal", "size": 27, "thickness": 1.3, "color": "#000", "opacity": 1},
     "encoding": {"x": {"field": "p", "type": "quantitative", "axis": null}, "y": {"field": "lo", "type": "quantitative", "axis": null}}},
    {"mark": {"type": "tick", "orient": "horizontal", "size": 27, "thickness": 1.3, "color": "#000", "opacity": 1},
     "encoding": {"x": {"field": "p", "type": "quantitative", "axis": null}, "y": {"field": "hi", "type": "quantitative", "axis": null}}},
    {"mark": {"type": "point", "filled": true, "shape": "diamond", "size": 16, "color": "#000", "opacity": 1},
     "encoding": {"x": {"field": "p", "type": "quantitative", "axis": null}, "y": {"field": "v", "type": "quantitative", "axis": null}}},
    {"transform": [{"filter": "datum.label === 'A'"}],
     "mark": {"type": "text", "align": "right", "baseline": "middle", "dx": -14, "fontSize": 11, "color": "#000"},
     "encoding": {"x": {"field": "p", "type": "quantitative", "axis": null}, "y": {"field": "v", "type": "quantitative", "axis": null}, "text": {"field": "label"}}},
    {"transform": [{"filter": "datum.label === 'G'"}],
     "mark": {"type": "text", "align": "left", "baseline": "middle", "dx": 17, "dy": 2, "fontSize": 11, "color": "#000"},
     "encoding": {"x": {"field": "p", "type": "quantitative", "axis": null}, "y": {"field": "v", "type": "quantitative", "axis": null}, "text": {"field": "label"}}}
   ]},
  {"transform": [{"filter": "datum.p >= 20 && datum.p <= 60"}],
   "mark": {"type": "point", "opacity": 0},
   "encoding": {
    "x": {"field": "p", "type": "quantitative", "scale": {"domain": [20, 60], "nice": false, "zero": false},
          "axis": {"orient": "bottom", "values": [20, 30, 40, 50, 60], "labelExpr": "datum.value % 20 === 0 ? datum.label : ''", "title": "Nucleotide Position", "labelPadding": 11, "titlePadding": 4}},
    "y": {"field": "v", "type": "quantitative", "scale": {"domain": [0, 30], "nice": false, "zero": false},
          "axis": {"orient": "left", "values": [0, 5, 10, 15, 20, 25, 30], "labelExpr": "datum.value % 10 === 0 ? datum.label : ''", "title": "E", "labelPadding": 19, "titlePadding": 5}}}},
  {"transform": [{"filter": "datum.p >= 20 && datum.p <= 60"}],
   "mark": {"type": "point", "opacity": 0},
   "encoding": {
    "x": {"field": "p", "type": "quantitative", "scale": {"domain": [20, 60], "nice": false, "zero": false},
          "axis": {"orient": "top", "values": [20, 30, 40, 50, 60], "labels": false, "title": "Intron−Exon (d)", "titleX": 145, "titleY": -18, "titleAlign": "center", "titleBaseline": "alphabetic", "titleAngle": 0, "titleFontSize": 19}},
    "y": {"field": "v", "type": "quantitative", "scale": {"domain": [0, 30], "nice": false, "zero": false},
          "axis": {"orient": "right", "values": [0, 5, 10, 15, 20, 25, 30], "labels": false, "title": null}}}},
  {"layer": [
    {"mark": {"type": "rule", "color": "#000", "strokeWidth": 1.1},
     "encoding": {"x": {"field": "p", "type": "quantitative", "scale": {"domain": [0, 100], "range": [42, 164], "nice": false, "zero": false}, "axis": null},
                  "y": {"field": "lo", "type": "quantitative", "scale": {"domain": [0, 30], "range": [124, 34], "nice": false, "zero": false}, "axis": null}, "y2": {"field": "hi"}}},
    {"mark": {"type": "tick", "orient": "horizontal", "size": 27, "thickness": 1.3, "color": "#000", "opacity": 1},
     "encoding": {"x": {"field": "p", "type": "quantitative", "axis": null}, "y": {"field": "lo", "type": "quantitative", "axis": null}}},
    {"mark": {"type": "tick", "orient": "horizontal", "size": 27, "thickness": 1.3, "color": "#000", "opacity": 1},
     "encoding": {"x": {"field": "p", "type": "quantitative", "axis": null}, "y": {"field": "hi", "type": "quantitative", "axis": null}}},
    {"mark": {"type": "point", "filled": true, "shape": "diamond", "size": 8, "color": "#000", "opacity": 1},
     "encoding": {"x": {"field": "p", "type": "quantitative", "axis": null}, "y": {"field": "v", "type": "quantitative", "axis": null}}}
  ]},
  {"mark": {"type": "point", "opacity": 0},
   "encoding": {
    "x": {"field": "p", "type": "quantitative", "scale": {"domain": [0, 100], "range": [42, 164], "nice": false, "zero": false},
          "axis": {"orient": "bottom", "offset": -212, "values": [0, 10, 20, 30, 40, 50, 60, 70, 80, 90, 100], "labelExpr": "datum.value % 20 === 0 ? datum.label : ''", "title": null, "labelFontSize": 9, "tickSize": -4, "labelPadding": 7}},
    "y": {"field": "v", "type": "quantitative", "scale": {"domain": [0, 30], "range": [124, 34], "nice": false, "zero": false},
          "axis": {"orient": "left", "offset": -42, "values": [0, 5, 10, 15, 20, 25, 30], "labelExpr": "datum.value % 10 === 0 ? datum.label : ''", "title": null, "labelFontSize": 9, "tickSize": -4, "labelPadding": 9}}}},
  {"mark": {"type": "point", "opacity": 0},
   "encoding": {
    "x": {"field": "p", "type": "quantitative", "scale": {"domain": [0, 100], "range": [42, 164], "nice": false, "zero": false},
          "axis": {"orient": "top", "offset": -34, "values": [0, 10, 20, 30, 40, 50, 60, 70, 80, 90, 100], "labels": false, "title": null, "tickSize": -4}},
    "y": {"field": "v", "type": "quantitative", "scale": {"domain": [0, 30], "range": [124, 34], "nice": false, "zero": false},
          "axis": {"orient": "right", "offset": -126, "values": [0, 5, 10, 15, 20, 25, 30], "labels": false, "title": null, "tickSize": -4}}}}
 ],
 "resolve": {"scale": {"x": "independent", "y": "independent"}}
}
],
"config": {
 "view": {"stroke": null},
 "font": "Liberation Sans",
 "axis": {"grid": false, "domainColor": "#222", "tickColor": "#222", "labelColor": "#000", "titleColor": "#000", "labelFont": "Liberation Sans", "titleFont": "Liberation Sans", "titleFontWeight": "normal", "labelFontSize": 20, "titleFontSize": 20, "tickSize": -5, "labelFlush": false, "labelOverlap": false, "domainWidth": 1.2, "tickWidth": 1.2},
 "title": {"font": "Liberation Sans", "fontWeight": "normal", "color": "#000"},
 "text": {"font": "Liberation Sans"}
}
}
